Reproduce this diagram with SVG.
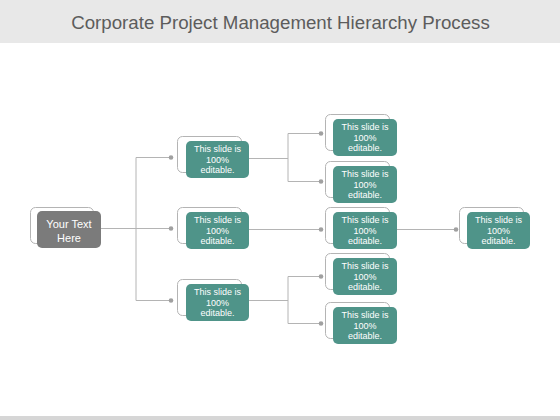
<svg xmlns="http://www.w3.org/2000/svg" width="560" height="420" viewBox="0 0 560 420">
<style>
.out{fill:#fff;stroke:#b4b4b4;stroke-width:1}
.box{fill:#4f9489}
.root{fill:#7b7b7b}
.t{font-family:"Liberation Sans",Arial,sans-serif;font-size:9px;fill:#fff;text-anchor:middle}
.rt{font-family:"Liberation Sans",Arial,sans-serif;font-size:11px;fill:#fff;text-anchor:middle}
.ln{stroke:#b4b4b4;stroke-width:1;fill:none}
.dot{fill:#a0a0a0}
</style>
<rect x="0" y="0" width="560" height="43" fill="#e8e8e8"/>
<text x="280.5" y="29" font-family="'Liberation Sans',Arial,sans-serif" font-size="18.7" fill="#5c5c5c" text-anchor="middle">Corporate Project Management Hierarchy Process</text>
<rect x="0" y="416" width="560" height="4" fill="#d6d6d6"/>
<g id="connectors">
<path class="ln" d="M101 228.5H170M136 157.5V300.5M136 157.5H170M136 300.5H170"/>
<path class="ln" d="M249 158.5H288M288 133.5V181.5M288 133.5H320M288 181.5H320"/>
<path class="ln" d="M249 229.5H320M397 229.5H455"/>
<path class="ln" d="M249 300.5H288M288 276.5V323.5M288 276.5H320M288 323.5H320"/>
<circle class="dot" cx="171" cy="157.5" r="2.3"/>
<circle class="dot" cx="171" cy="228.5" r="2.3"/>
<circle class="dot" cx="171" cy="300.5" r="2.3"/>
<circle class="dot" cx="321" cy="133.5" r="2.3"/>
<circle class="dot" cx="321" cy="181.5" r="2.3"/>
<circle class="dot" cx="321" cy="229.5" r="2.3"/>
<circle class="dot" cx="321" cy="276.5" r="2.3"/>
<circle class="dot" cx="321" cy="323.5" r="2.3"/>
<circle class="dot" cx="456" cy="229.5" r="2.3"/>
</g>
<g id="root">
<rect class="out" x="30.5" y="207.5" width="63" height="36" rx="5"/>
<rect class="root" x="37" y="211" width="64" height="37" rx="5"/>
<text class="rt" x="69" y="227.5">Your Text</text>
<text class="rt" x="69" y="241.5">Here</text>
</g>
<g id="n1">
<rect class="out" x="177.5" y="136.5" width="64" height="36" rx="5"/>
<rect class="box" x="186" y="141" width="63" height="37" rx="5"/>
<text class="t" x="217.5" y="152">This slide is</text>
<text class="t" x="217.5" y="162.5">100%</text>
<text class="t" x="217.5" y="173">editable.</text>
</g>
<g id="n2">
<rect class="out" x="177.5" y="207.5" width="64" height="36" rx="5"/>
<rect class="box" x="186" y="212" width="63" height="37" rx="5"/>
<text class="t" x="217.5" y="223">This slide is</text>
<text class="t" x="217.5" y="233.5">100%</text>
<text class="t" x="217.5" y="244">editable.</text>
</g>
<g id="n3">
<rect class="out" x="177.5" y="279.5" width="64" height="36" rx="5"/>
<rect class="box" x="186" y="284" width="63" height="37" rx="5"/>
<text class="t" x="217.5" y="295">This slide is</text>
<text class="t" x="217.5" y="305.5">100%</text>
<text class="t" x="217.5" y="316">editable.</text>
</g>
<g id="n11">
<rect class="out" x="325.5" y="114.5" width="64" height="36" rx="5"/>
<rect class="box" x="333" y="119" width="64" height="37" rx="5"/>
<text class="t" x="365" y="130">This slide is</text>
<text class="t" x="365" y="140.5">100%</text>
<text class="t" x="365" y="151">editable.</text>
</g>
<g id="n12">
<rect class="out" x="325.5" y="161.5" width="64" height="36" rx="5"/>
<rect class="box" x="333" y="166" width="64" height="37" rx="5"/>
<text class="t" x="365" y="177">This slide is</text>
<text class="t" x="365" y="187.5">100%</text>
<text class="t" x="365" y="198">editable.</text>
</g>
<g id="n21">
<rect class="out" x="325.5" y="207.5" width="64" height="36" rx="5"/>
<rect class="box" x="333" y="212" width="64" height="37" rx="5"/>
<text class="t" x="365" y="223">This slide is</text>
<text class="t" x="365" y="233.5">100%</text>
<text class="t" x="365" y="244">editable.</text>
</g>
<g id="n31">
<rect class="out" x="325.5" y="253.5" width="64" height="36" rx="5"/>
<rect class="box" x="333" y="258" width="64" height="37" rx="5"/>
<text class="t" x="365" y="269">This slide is</text>
<text class="t" x="365" y="279.5">100%</text>
<text class="t" x="365" y="290">editable.</text>
</g>
<g id="n32">
<rect class="out" x="325.5" y="302.5" width="64" height="36" rx="5"/>
<rect class="box" x="333" y="307" width="64" height="37" rx="5"/>
<text class="t" x="365" y="318">This slide is</text>
<text class="t" x="365" y="328.5">100%</text>
<text class="t" x="365" y="339">editable.</text>
</g>
<g id="n211">
<rect class="out" x="459.5" y="207.5" width="64" height="36" rx="5"/>
<rect class="box" x="467" y="212" width="63" height="37" rx="5"/>
<text class="t" x="498.5" y="223">This slide is</text>
<text class="t" x="498.5" y="233.5">100%</text>
<text class="t" x="498.5" y="244">editable.</text>
</g>
</svg>
